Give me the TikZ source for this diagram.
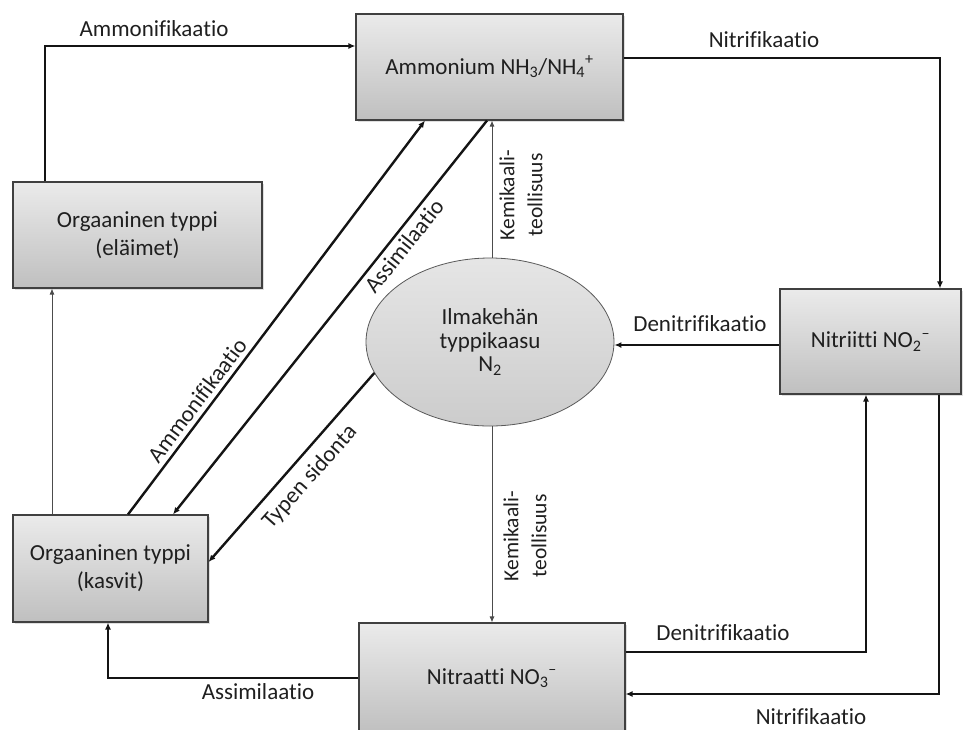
\documentclass[tikz,border=0pt]{standalone}
\usepackage{fontspec}
\setmainfont{Carlito}[Ligatures=NoCommon]
\usetikzlibrary{arrows.meta,shapes.geometric,shadows}
\begin{document}
\begin{tikzpicture}[x=1pt,y=-1pt,
  every node/.style={text=black!88},
  box/.style={draw=black!75, line width=1.1pt, top color=black!8, bottom color=black!25,
    inner sep=0pt, align=center, font=\fontsize{23}{28}\selectfont,
    drop shadow={shadow xshift=1.5pt, shadow yshift=-1.5pt, opacity=0.25}},
  gas/.style={ellipse, draw=black!65, line width=0.8pt, top color=black!10, bottom color=black!20,
    inner sep=0pt, align=center, font=\fontsize{23}{23.5}\selectfont},
  flow/.style={line width=2.4pt, draw=black!92, -{Latex[length=7pt,width=6pt]}},
  thinflow/.style={line width=0.9pt, draw=black!70, -{Latex[length=6pt,width=5pt]}},
  lbl/.style={font=\fontsize{23}{28}\selectfont, inner sep=0pt},
  klbl/.style={font=\fontsize{21.5}{28}\selectfont, inner sep=0pt, align=center, rotate=90}]
\useasboundingbox (0,0) rectangle (964,729);

\node[box, minimum width=267pt, minimum height=106pt] (amm) at (489.5,67) {Ammonium NH\textsubscript{3}/NH\textsubscript{4}\textsuperscript{+}};
\node[box, minimum width=249pt, minimum height=106pt] (ela) at (137.5,235) {Orgaaninen typpi\\(eläimet)};
\node[box, minimum width=195pt, minimum height=107pt] (kas) at (110.5,568.5) {Orgaaninen typpi\\(kasvit)};
\node[box, minimum width=181pt, minimum height=105pt] (nit2) at (870.5,341.5) {Nitriitti NO\textsubscript{2}\textsuperscript{–}};
\node[box, minimum width=266pt, minimum height=110pt] (nit3) at (492,678) {Nitraatti NO\textsubscript{3}\textsuperscript{–}};
\node[gas, minimum width=248pt, minimum height=168pt] (ell) at (490,342) {Ilmakehän\\typpikaasu\\N\textsubscript{2}};

% top ammonification
\draw[flow] (ela.north -| 45,0) -- (45,46) -- (amm.west |- 0,46);
\node[lbl] (l1) at (154,29) {Ammonifikaatio};
% top nitrification
\draw[flow] (amm.east |- 0,58) -- (940,58) -- (nit2.north -| 940,0);
\node[lbl] (l2) at (764,40) {Nitrifikaatio};
% denitrification to gas
\draw[flow] (nit2.west |- 0,345) -- (ell.east |- 0,345);
\node[lbl] (l3) at (700,324) {Denitrifikaatio};
% nitrate -> nitrite denitrification
\draw[flow] (nit3.east |- 0,652) -- (866,652) -- (nit2.south -| 866,0);
\node[lbl] (l4) at (723,633) {Denitrifikaatio};
% nitrite -> nitrate nitrification
\draw[flow] (nit2.south -| 939,0) -- (939,694) -- (nit3.east |- 0,694);
\node[lbl] (l5) at (811,717) {Nitrifikaatio};
% assimilation bottom
\draw[flow] (nit3.west |- 0,678) -- (108,678) -- (kas.south -| 108,0);
\node[lbl] (l6) at (258,692) {Assimilaatio};
% plants -> animals
\draw[thinflow] (kas.north -| 52,0) -- (ela.south -| 52,0);
% chemical industry
\draw[thinflow] (ell.north -| 492,0) -- (amm.south -| 492,0);
\node[klbl] (k1) at (521,195) {Kemikaali-\\teollisuus};
\draw[thinflow] (ell.south -| 492,0) -- (nit3.north -| 492,0);
\node[klbl] (k2) at (525,536) {Kemikaali-\\teollisuus};
% diagonals
\draw[flow] (kas.north -| 128,0) -- (amm.south -| 425,0);
\node[lbl, rotate=53] (l7) at (197,400) {Ammonifikaatio};
\draw[flow] (amm.south -| 487,0) -- (kas.north -| 173,0);
\node[lbl, rotate=51.5] (l8) at (404,246) {Assimilaatio};
\draw[flow] (ell.195) -- (kas.east |- 0,562);
\node[lbl, rotate=48.4] (l9) at (310,477) {Typen sidonta};
\end{tikzpicture}
\end{document}
